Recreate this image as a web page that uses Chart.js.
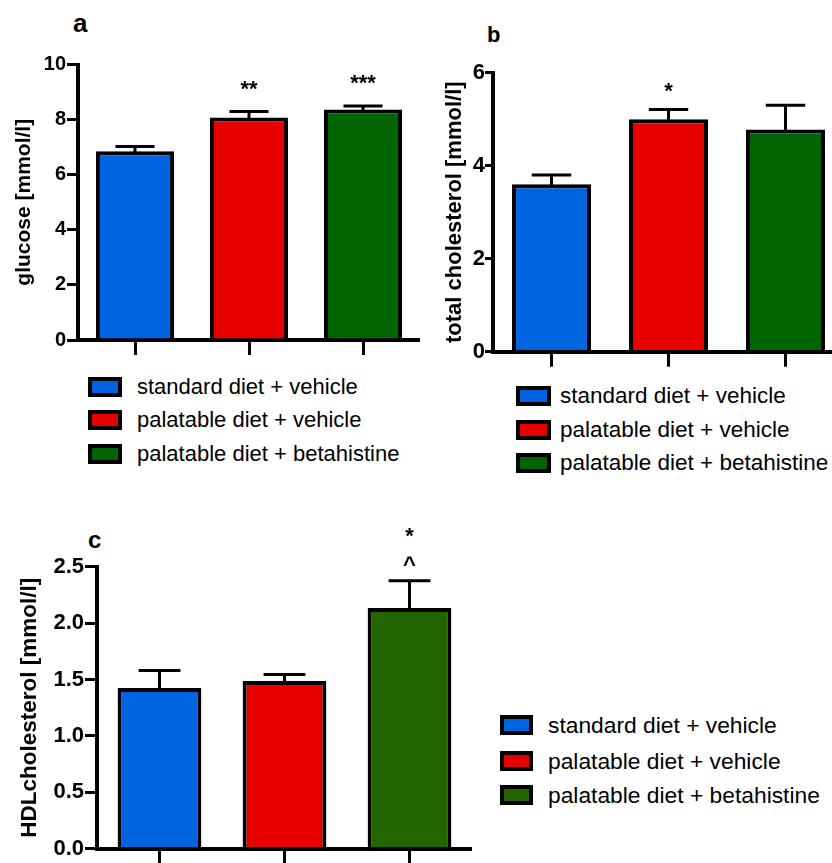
<!DOCTYPE html>
<html><head><meta charset="utf-8">
<script src="https://cdn.jsdelivr.net/npm/chart.js@4.4.0/dist/chart.umd.min.js"></script>
<style>
html,body{margin:0;padding:0;background:#fff;width:832px;height:863px;overflow:hidden;position:relative;font-family:"Liberation Sans",Arial,sans-serif;color:#000;}
.panel{position:absolute;}
.plabel{position:absolute;font-weight:bold;line-height:1;color:#000;}
.item{position:absolute;display:flex;align-items:center;white-space:nowrap;line-height:1;}
.sw{box-sizing:border-box;border:4px solid #000;flex:none;}
</style></head><body>

<div class="plabel" style="left:73px;top:10px;font-size:26px;">a</div>
<div class="plabel" style="left:487px;top:24px;font-size:22px;">b</div>
<div class="plabel" style="left:88px;top:528px;font-size:24px;">c</div>

<div class="panel" style="left:0;top:0;width:420px;height:370px;"><canvas id="ca" width="420" height="370"></canvas></div>
<div class="panel" style="left:430px;top:0;width:414px;height:380px;"><canvas id="cb" width="414" height="380"></canvas></div>
<div class="panel" style="left:0;top:520px;width:472px;height:343px;"><canvas id="cc" width="472" height="343"></canvas></div>

<div id="legA"></div><div id="legB"></div><div id="legC"></div>

<script>
// ---------- data ----------
const groups = ['standard diet + vehicle', 'palatable diet + vehicle', 'palatable diet + betahistine'];
const colorsAB = ['#0064e1', '#e80000', '#006400'];
const colorsC = ['#0064e1', '#e80000', '#236600'];

const glucose = [6.85, 8.08, 8.37];
const glucoseSem = [0.17, 0.21, 0.12];
const glucoseSig = ['', '**', '***'];
const glucoseTicks = [0, 2, 4, 6, 8, 10];

const totalChol = [3.60, 5.00, 4.78];
const totalCholSem = [0.20, 0.21, 0.52];
const totalCholSig = ['', '*', ''];
const totalCholTicks = [0, 2, 4, 6];

const hdl = [1.425, 1.486, 2.135];
const hdlSem = [0.155, 0.058, 0.24];
const hdlSigCaret = ['', '', '^'];
const hdlSigStar = ['', '', '*'];
const hdlTicks = [0, 0.5, 1.0, 1.5, 2.0, 2.5];

const FONT = '"Liberation Sans", Arial, sans-serif';

// ---------- error bars + significance marks ----------
const errorBars = {
  id: 'errorBars',
  afterDatasetsDraw(chart, args, opts) {
    const ctx = chart.ctx;
    const meta = chart.getDatasetMeta(0);
    const y = chart.scales.y;
    const ds = chart.data.datasets[0];
    ctx.save();
    ctx.strokeStyle = '#000';
    ctx.lineWidth = opts.lineWidth;
    meta.data.forEach((bar, i) => {
      const top = y.getPixelForValue(ds.data[i] + opts.sem[i]);
      const half = bar.width * opts.capRatio / 2;
      ctx.beginPath();
      ctx.moveTo(bar.x, bar.y + 2);
      ctx.lineTo(bar.x, top);
      ctx.moveTo(bar.x - half, top);
      ctx.lineTo(bar.x + half, top);
      ctx.stroke();
      ctx.fillStyle = '#000';
      ctx.textAlign = 'center';
      ctx.textBaseline = 'alphabetic';
      ctx.font = opts.markFont;
      (opts.marks || []).forEach(m => {
        const t = m.labels[i];
        if (t) ctx.fillText(t, bar.x, top - m.offset);
      });
    });
    ctx.restore();
  }
};

function makePanel(id, values, sem, colors, ticks, cfg) {
  new Chart(document.getElementById(id), {
    type: 'bar',
    data: {
      labels: groups,
      datasets: [{
        data: values,
        backgroundColor: colors,
        borderColor: '#000',
        borderWidth: 4,
        borderSkipped: 'bottom',
        categoryPercentage: 1,
        barPercentage: cfg.barPct
      }]
    },
    options: {
      responsive: false,
      animation: false,
      events: [],
      layout: { padding: { top: cfg.padTop, right: 0, bottom: 0, left: 0 } },
      plugins: {
        legend: { display: false },
        tooltip: { enabled: false },
        errorBars: { sem: sem, capRatio: 0.5, lineWidth: 3, marks: cfg.marks, markFont: 'bold 22px ' + FONT }
      },
      scales: {
        x: {
          offset: true,
          ticks: { display: false },
          grid: { offset: false, drawOnChartArea: false, drawTicks: true, tickLength: 15, lineWidth: 3, color: '#000' },
          border: { display: true, width: 4, color: '#000' },
          afterFit(s) { s.height = cfg.xHeight; }
        },
        y: {
          min: ticks[0], max: ticks[ticks.length - 1],
          afterBuildTicks(s) { s.ticks = ticks.map(v => ({ value: v })); },
          ticks: {
            color: '#000', padding: cfg.tickPad,
            font: { family: FONT, size: cfg.tickSize, weight: 'bold' },
            callback: v => cfg.decimals ? Number(v).toFixed(cfg.decimals) : String(v)
          },
          grid: { drawOnChartArea: false, drawTicks: true, tickLength: cfg.tl, lineWidth: 3, color: '#000' },
          border: { display: true, width: 4, color: '#000' },
          title: {
            display: true, text: cfg.title, color: '#000',
            font: { family: FONT, size: cfg.titleSize, weight: 'bold' },
            padding: { top: cfg.titlePad, bottom: 0 }
          },
          afterFit(s) { s.width = cfg.yWidth; }
        }
      }
    },
    plugins: [errorBars]
  });
}

makePanel('ca', glucose, glucoseSem, colorsAB, glucoseTicks, {
  barPct: 0.685, padTop: 64.5, xHeight: 30, yWidth: 78, tl: 11, tickPad: 1, tickSize: 20,
  title: 'glucose [mmol/l]', titleSize: 21, titlePad: 12,
  marks: [{ labels: glucoseSig, offset: 16 }]
});
makePanel('cb', totalChol, totalCholSem, colorsAB, totalCholTicks, {
  barPct: 0.675, padTop: 72.7, xHeight: 28.3, yWidth: 63, tl: 8, tickPad: 0, tickSize: 22,
  title: 'total cholesterol [mmol/l]', titleSize: 22, titlePad: 12,
  marks: [{ labels: totalCholSig, offset: 11 }]
});
makePanel('cc', hdl, hdlSem, colorsC, hdlTicks, {
  barPct: 0.67, padTop: 46.7, xHeight: 11.3, yWidth: 97, tl: 12, tickPad: 1, tickSize: 22, decimals: 1,
  title: 'HDLcholesterol [mmol/l]', titleSize: 22.5, titlePad: 16,
  marks: [{ labels: hdlSigCaret, offset: 9 }, { labels: hdlSigStar, offset: 38 }]
});

// ---------- legends (HTML text) ----------
function makeLegend(elId, colors, boxLeft, boxW, boxH, textLeft, rows, fontSize) {
  const el = document.getElementById(elId);
  groups.forEach((g, i) => {
    const it = document.createElement('div');
    it.className = 'item';
    it.style.left = boxLeft + 'px';
    it.style.top = (rows[i] - fontSize * 0.6) + 'px';
    it.style.height = (fontSize * 1.2) + 'px';
    it.style.fontSize = fontSize + 'px';
    const sw = document.createElement('div');
    sw.className = 'sw';
    sw.style.width = boxW + 'px';
    sw.style.height = boxH + 'px';
    sw.style.background = colors[i];
    sw.style.marginRight = (textLeft - boxLeft - boxW) + 'px';
    const tx = document.createElement('span');
    tx.textContent = g;
    it.appendChild(sw); it.appendChild(tx);
    el.appendChild(it);
  });
}
makeLegend('legA', colorsAB, 88, 34, 20, 137, [387, 420.5, 454], 22);
makeLegend('legB', colorsAB, 516, 35, 20, 560, [396, 430, 463], 22.5);
makeLegend('legC', colorsC, 500, 33, 20, 548, [725, 761, 795], 22.8);
</script>
</body></html>
